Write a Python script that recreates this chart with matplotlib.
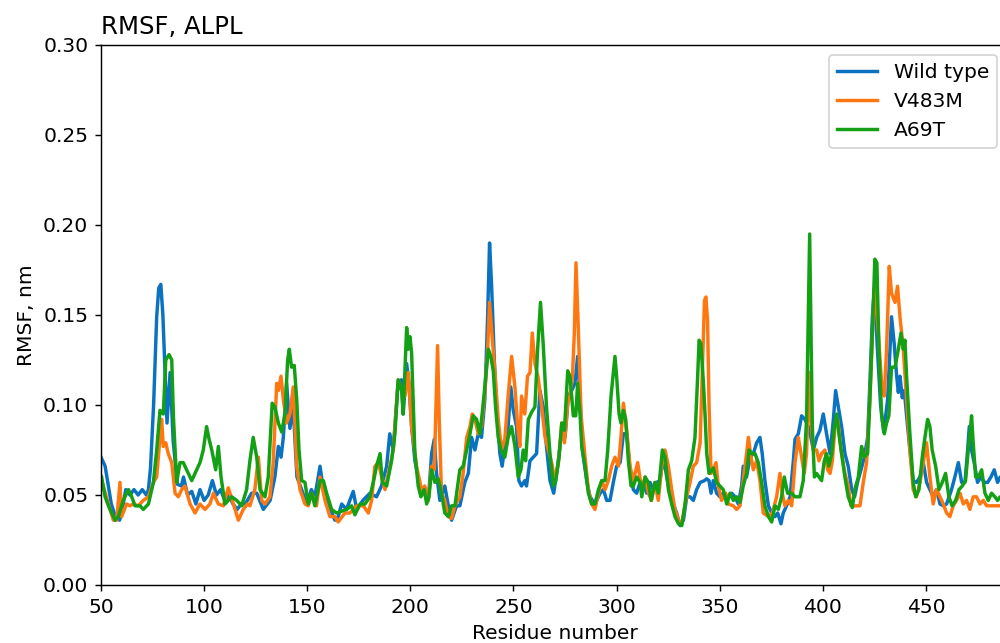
import matplotlib
matplotlib.use('Agg')
import matplotlib.pyplot as plt

# RMSF per residue
wt_res = [50, 52, 55, 57, 59, 60, 62, 64, 66, 68, 70, 72, 73, 74, 75.5, 77, 78, 79, 80, 81,
          82, 83.5, 85, 87, 89, 90, 92, 94, 96, 98, 100, 102, 104, 106, 108, 110, 112, 114, 116, 118,
          120, 123, 125.5, 128.7, 132, 134.3, 136, 137.3, 138.4, 140, 141.6, 143.2, 145, 147.3, 149.7, 152, 153.7, 156.2, 157.8, 160.2,
          163.4, 165, 166.7, 169, 172.3, 174, 177, 180.4, 183.6, 186, 188.5, 190, 191.7, 194, 195.7, 196.5, 198.2, 199.3, 200.6, 202.2,
          204.6, 207, 208.7, 210.3, 211.6, 212.7, 214.3, 216.7, 218.4, 220, 222.4, 224, 226.4, 228.1, 229.7, 231.3, 232.9, 234.5, 236.1, 237.4,
          238.4, 239.4, 240.7, 241.8, 243.4, 244.5, 245.8, 247.4, 248.7, 249.9, 251.5, 252.6, 253.9, 255.5, 256.3, 258, 259.6, 261.2, 262.8, 264.4,
          266, 267.7, 269.5, 271.4, 273.4, 275, 276.6, 278.2, 279.8, 281.1, 282.3, 283.4, 285.5, 287.1, 289.5, 292, 293.6, 295.2, 296.8, 298.4,
          300, 301.7, 303.3, 304.9, 306.5, 308.1, 309.7, 311.4, 313, 314.6, 316.2, 317.8, 319.4, 321, 322.7, 324.3, 325.9, 327.5, 329.1, 330.8,
          332.4, 334, 335.6, 337.2, 338.8, 340.5, 342.6, 343.7, 344.8, 345.8, 346.9, 348.5, 350.1, 351.7, 353.4, 355.8, 357.4, 359, 360.6, 361.4,
          363, 364.7, 366.3, 367.9, 369.5, 370.6, 371.9, 373.6, 375.2, 376.8, 378.1, 379.7, 380.8, 382.4, 384.1, 385.7, 386.5, 388.1, 389.7, 391.3,
          393, 394.2, 395.4, 397, 398.6, 400.2, 401.8, 403.5, 405.1, 406.2, 407.5, 409.1, 410.7, 412.3, 414, 415.4, 416.8, 418.5, 420.1, 421.7,
          422.8, 424, 425, 426.5, 428, 429.5, 431.4, 433.3, 434.6, 435.8, 436.6, 437.4, 438.5, 439.5, 440.6, 442.2, 443.8, 445.4, 447.1, 448.7,
          450.3, 451.9, 453.5, 455.1, 456.8, 458.4, 460, 462.4, 464, 465.7, 467.3, 468.9, 470.2, 471, 472.1, 473.7, 475, 476.6, 478.3, 479.9,
          481.5, 483.1, 484.7, 486, 490]
wt_rmsf = [0.071, 0.066, 0.045, 0.038, 0.036, 0.040, 0.053, 0.050, 0.053, 0.050, 0.053, 0.050, 0.053, 0.065, 0.100, 0.149, 0.165, 0.167, 0.150, 0.120,
           0.090, 0.118, 0.080, 0.056, 0.055, 0.060, 0.050, 0.052, 0.045, 0.053, 0.047, 0.050, 0.058, 0.050, 0.053, 0.047, 0.050, 0.045, 0.042, 0.045,
           0.045, 0.051, 0.051, 0.042, 0.047, 0.060, 0.077, 0.071, 0.082, 0.112, 0.087, 0.099, 0.060, 0.053, 0.045, 0.053, 0.049, 0.066, 0.053, 0.045,
           0.036, 0.038, 0.045, 0.042, 0.052, 0.042, 0.047, 0.051, 0.049, 0.055, 0.066, 0.084, 0.075, 0.112, 0.114, 0.095, 0.123, 0.112, 0.088, 0.069,
           0.055, 0.051, 0.047, 0.073, 0.081, 0.062, 0.047, 0.055, 0.044, 0.036, 0.044, 0.044, 0.057, 0.062, 0.082, 0.075, 0.084, 0.082, 0.103, 0.147,
           0.190, 0.166, 0.125, 0.099, 0.073, 0.066, 0.077, 0.088, 0.110, 0.097, 0.088, 0.058, 0.055, 0.058, 0.055, 0.069, 0.071, 0.073, 0.108, 0.099,
           0.077, 0.058, 0.051, 0.066, 0.086, 0.082, 0.105, 0.108, 0.112, 0.127, 0.103, 0.075, 0.058, 0.049, 0.045, 0.051, 0.053, 0.047, 0.047, 0.057,
           0.066, 0.068, 0.084, 0.084, 0.064, 0.053, 0.051, 0.057, 0.057, 0.051, 0.057, 0.053, 0.057, 0.058, 0.071, 0.060, 0.051, 0.045, 0.040, 0.033,
           0.036, 0.049, 0.049, 0.047, 0.053, 0.057, 0.058, 0.059, 0.058, 0.051, 0.058, 0.051, 0.049, 0.051, 0.049, 0.051, 0.049, 0.045, 0.055, 0.066,
           0.060, 0.071, 0.073, 0.079, 0.082, 0.073, 0.058, 0.044, 0.040, 0.038, 0.040, 0.034, 0.040, 0.044, 0.049, 0.069, 0.081, 0.084, 0.094, 0.092,
           0.088, 0.082, 0.075, 0.082, 0.086, 0.095, 0.084, 0.073, 0.092, 0.108, 0.099, 0.088, 0.073, 0.066, 0.053, 0.049, 0.057, 0.064, 0.071, 0.082,
           0.112, 0.149, 0.165, 0.130, 0.100, 0.085, 0.103, 0.149, 0.134, 0.116, 0.107, 0.116, 0.104, 0.108, 0.094, 0.075, 0.058, 0.057, 0.060, 0.068,
           0.057, 0.053, 0.049, 0.053, 0.045, 0.044, 0.045, 0.053, 0.060, 0.068, 0.057, 0.057, 0.075, 0.088, 0.075, 0.066, 0.057, 0.060, 0.057, 0.057,
           0.060, 0.064, 0.057, 0.060, 0.058]

v483m_res = [50.3, 53.6, 56, 57.6, 59.2, 60, 62.4, 64, 65.7, 68.1, 70.5, 73, 75.4, 77, 78.6, 79.4, 80.2, 81.4, 82.6, 84.3,
             85.9, 87.5, 89.1, 90.7, 93.2, 95.6, 98, 100.4, 102.8, 104.5, 106.9, 109.3, 111.7, 114.2, 116.6, 119, 121, 122.2, 124.6, 126.3,
             127.9, 129.5, 131.9, 133.5, 135.2, 136, 137.3, 138.4, 140, 141.6, 143.2, 144.9, 146.5, 148.9, 150.5, 152.1, 154.5, 156.2, 158.6, 161,
             163.4, 165, 168.3, 170.7, 174, 177.2, 179.6, 181.2, 182.8, 184.5, 186.1, 187.7, 190.1, 191.7, 194.1, 195.8, 197.4, 199, 200.6, 203,
             205.4, 207, 208.7, 210.3, 211.6, 213.2, 214, 215.1, 216.7, 218.4, 220, 221.6, 224, 225.6, 227.3, 228.9, 230, 231.3, 232.9, 234.5,
             236.1, 237.4, 238.4, 239.4, 241, 242.6, 244.2, 245.8, 247.4, 249.1, 250.7, 252, 253.1, 253.9, 255.5, 256.8, 258, 259.1, 260.4, 262,
             263.6, 265.3, 266.9, 268.9, 269.8, 271.8, 273.4, 274.7, 276.3, 277.4, 278.6, 279.5, 280.3, 281.5, 282.8, 284.7, 286.3, 287.9, 289.5, 291.2,
             292.8, 294.4, 296, 297.6, 299.2, 300.9, 302.1, 303.3, 304.9, 306.5, 308.1, 310.2, 312.2, 313.8, 315.4, 317, 318.6, 320.2, 321.9, 323.5,
             325.1, 326.7, 328.3, 330, 331.6, 333.2, 335.6, 337.2, 338.8, 340.5, 341.6, 342.6, 343.3, 344.1, 344.8, 345.8, 346.9, 348.2, 349.3, 350.9,
             352.9, 354.2, 356.6, 358.2, 359.8, 361.4, 363, 363.9, 365.2, 366.3, 367.9, 369.5, 371.1, 373.6, 375.5, 377.6, 379.2, 380.3, 381.6, 383.3,
             384.9, 386.5, 388.1, 389.4, 391, 392.1, 393.3, 394.2, 395.4, 397, 398.1, 399.4, 401, 402.3, 403.5, 404.6, 405.9, 407.2, 408.8, 410.7,
             412.3, 413.6, 415.5, 418, 419.6, 421.2, 422.8, 424.4, 425.3, 426.9, 428.5, 429.8, 430.9, 432.2, 433.3, 435, 436.2, 437.4, 439, 440.6,
             442.2, 443.8, 445.4, 447.1, 448.7, 450.3, 451.9, 453.5, 455.1, 456.8, 458.4, 460, 461.6, 463.2, 464.8, 466.5, 468.1, 469.7, 471.3, 472.9,
             474.5, 476.2, 477.8, 479.4, 482.6, 486, 490]
v483m_rmsf = [0.058, 0.045, 0.036, 0.036, 0.057, 0.038, 0.045, 0.044, 0.045, 0.044, 0.047, 0.049, 0.057, 0.060, 0.082, 0.092, 0.077, 0.079, 0.073, 0.068,
              0.051, 0.049, 0.053, 0.055, 0.045, 0.040, 0.045, 0.042, 0.045, 0.051, 0.045, 0.044, 0.054, 0.045, 0.036, 0.042, 0.045, 0.044, 0.053, 0.071,
              0.047, 0.045, 0.049, 0.068, 0.112, 0.108, 0.116, 0.103, 0.090, 0.095, 0.110, 0.066, 0.053, 0.045, 0.044, 0.051, 0.044, 0.060, 0.047, 0.038,
              0.038, 0.035, 0.040, 0.040, 0.044, 0.044, 0.040, 0.047, 0.066, 0.068, 0.060, 0.053, 0.066, 0.075, 0.114, 0.108, 0.105, 0.118, 0.088, 0.066,
              0.053, 0.055, 0.047, 0.066, 0.064, 0.133, 0.092, 0.051, 0.047, 0.038, 0.037, 0.044, 0.049, 0.062, 0.082, 0.088, 0.095, 0.092, 0.084, 0.088,
              0.107, 0.129, 0.157, 0.142, 0.118, 0.092, 0.075, 0.081, 0.105, 0.127, 0.110, 0.088, 0.077, 0.105, 0.095, 0.116, 0.118, 0.140, 0.123, 0.115,
              0.100, 0.082, 0.075, 0.066, 0.057, 0.068, 0.090, 0.079, 0.101, 0.105, 0.116, 0.140, 0.179, 0.140, 0.094, 0.071, 0.053, 0.045, 0.042, 0.051,
              0.058, 0.053, 0.058, 0.066, 0.071, 0.066, 0.082, 0.101, 0.086, 0.066, 0.058, 0.068, 0.053, 0.060, 0.051, 0.047, 0.057, 0.047, 0.066, 0.075,
              0.066, 0.053, 0.042, 0.036, 0.034, 0.045, 0.057, 0.066, 0.068, 0.079, 0.121, 0.158, 0.160, 0.147, 0.101, 0.062, 0.064, 0.068, 0.055, 0.047,
              0.051, 0.045, 0.044, 0.042, 0.044, 0.058, 0.073, 0.082, 0.071, 0.064, 0.069, 0.058, 0.040, 0.038, 0.040, 0.049, 0.062, 0.051, 0.044, 0.047,
              0.044, 0.068, 0.082, 0.073, 0.062, 0.073, 0.118, 0.092, 0.075, 0.075, 0.069, 0.073, 0.075, 0.064, 0.062, 0.069, 0.088, 0.092, 0.075, 0.062,
              0.055, 0.044, 0.044, 0.044, 0.057, 0.068, 0.103, 0.149, 0.165, 0.140, 0.112, 0.105, 0.131, 0.177, 0.162, 0.157, 0.166, 0.149, 0.131, 0.103,
              0.075, 0.053, 0.049, 0.057, 0.068, 0.079, 0.060, 0.045, 0.053, 0.049, 0.045, 0.040, 0.038, 0.044, 0.047, 0.051, 0.045, 0.047, 0.042, 0.049,
              0.049, 0.045, 0.047, 0.044, 0.044, 0.044, 0.044]

a69t_res = [50.3, 52, 53.6, 55.2, 56.8, 58.4, 60.8, 63.3, 64.9, 66.5, 68.9, 70.5, 73, 75.4, 77, 78.6, 80.2, 81.4, 83, 84.3,
            85.1, 86.7, 88.3, 89.9, 91.5, 94, 96.4, 98, 99.6, 101.2, 102.4, 103.7, 105.6, 106.9, 108.2, 110.1, 111.7, 113.4, 115.8, 118.2,
            120.6, 122.2, 123.8, 125.5, 127.1, 129.5, 131.1, 133, 134.3, 136, 137.6, 139.2, 140.5, 141.3, 142.4, 143.7, 144.9, 146, 147.3, 148.9,
            150.5, 152.1, 153.7, 156.2, 157.8, 159.4, 161.8, 164.2, 166.7, 169.1, 171.5, 173.1, 175.6, 178, 180.4, 182, 183.6, 185.3, 186.4, 188.5,
            190.9, 192.5, 194.1, 195.8, 196.5, 198.2, 199, 199.8, 200.6, 202.2, 203.8, 205.1, 206.7, 207.9, 209, 210.3, 211.9, 213.5, 215.1, 216.7,
            218.4, 220, 221.6, 224, 225.6, 227.3, 228.9, 230.5, 232.1, 233.7, 234.8, 236.1, 237.8, 239, 240.2, 241.3, 242.6, 243.9, 245.8, 247.4,
            249.1, 250.7, 252.3, 253.6, 254.7, 255.9, 257.2, 258.8, 260.4, 261.7, 263.1, 264.4, 266, 267.7, 269.3, 270.5, 272.1, 273.4, 274.7, 276.3,
            277.4, 279, 280.2, 281.1, 282.3, 283.1, 284.7, 286.3, 287.9, 289.5, 291.2, 292.8, 294.4, 295.7, 297.3, 298.4, 299.2, 300, 301.2, 302.1,
            303.3, 304.4, 305.7, 307, 308.1, 309.7, 311.4, 312.2, 313.8, 315.4, 316.7, 318.6, 320.2, 322.2, 323.5, 325.1, 326.7, 328.3, 330, 331.6,
            333.2, 334.8, 336.4, 338, 339.3, 340, 340.9, 342.1, 342.9, 343.7, 344.8, 346.9, 348.5, 350.1, 351.7, 353.4, 355, 356.6, 358.2, 359.8,
            361.4, 363, 364.2, 365.5, 367.1, 368.7, 370.3, 371.9, 373.6, 375.2, 376.8, 378.4, 380, 381.3, 382.9, 384.9, 386.5, 388.9, 390.5, 392.1,
            392.9, 393.6, 394.2, 394.9, 395.9, 397, 398.1, 399.4, 400.7, 401.8, 402.9, 404.3, 405.6, 406.7, 407.8, 409.1, 410.7, 412.3, 414.3, 415.5,
            417.2, 418.8, 420.1, 421.7, 422.8, 424, 425.2, 426.2, 427.2, 428.5, 429.8, 430.9, 432, 433.3, 435, 436.6, 437.9, 439, 439.8, 440.6,
            442.2, 443.8, 445, 446.6, 448.2, 449.5, 450.8, 451.9, 453, 454.7, 456.3, 457.9, 459.5, 461.1, 462.7, 464.4, 466, 467.6, 469.2, 470.5,
            471.5, 472.1, 472.9, 474.1, 475.4, 477, 478.6, 480.2, 481.8, 483.4, 484.7, 486, 490]
a69t_rmsf = [0.060, 0.049, 0.044, 0.040, 0.036, 0.038, 0.047, 0.053, 0.049, 0.044, 0.044, 0.042, 0.045, 0.057, 0.075, 0.097, 0.095, 0.125, 0.128, 0.125,
             0.094, 0.057, 0.068, 0.068, 0.064, 0.058, 0.064, 0.068, 0.075, 0.088, 0.081, 0.075, 0.064, 0.077, 0.060, 0.045, 0.047, 0.049, 0.047, 0.044,
             0.053, 0.069, 0.082, 0.071, 0.053, 0.049, 0.060, 0.101, 0.099, 0.090, 0.085, 0.095, 0.125, 0.131, 0.121, 0.122, 0.103, 0.075, 0.058, 0.057,
             0.045, 0.051, 0.044, 0.058, 0.058, 0.051, 0.042, 0.040, 0.041, 0.042, 0.044, 0.039, 0.045, 0.045, 0.049, 0.057, 0.066, 0.073, 0.057, 0.055,
             0.069, 0.084, 0.114, 0.108, 0.095, 0.143, 0.131, 0.138, 0.129, 0.073, 0.055, 0.049, 0.053, 0.045, 0.049, 0.064, 0.057, 0.059, 0.051, 0.040,
             0.038, 0.044, 0.044, 0.064, 0.066, 0.075, 0.084, 0.094, 0.092, 0.084, 0.095, 0.110, 0.131, 0.127, 0.119, 0.099, 0.082, 0.075, 0.071, 0.082,
             0.088, 0.077, 0.060, 0.064, 0.075, 0.069, 0.092, 0.096, 0.099, 0.131, 0.157, 0.134, 0.099, 0.073, 0.055, 0.058, 0.071, 0.090, 0.086, 0.119,
             0.116, 0.094, 0.094, 0.112, 0.094, 0.077, 0.066, 0.051, 0.045, 0.045, 0.053, 0.058, 0.058, 0.075, 0.105, 0.118, 0.127, 0.116, 0.095, 0.090,
             0.097, 0.092, 0.069, 0.055, 0.055, 0.060, 0.057, 0.049, 0.060, 0.057, 0.047, 0.057, 0.051, 0.075, 0.071, 0.053, 0.045, 0.038, 0.034, 0.033,
             0.045, 0.064, 0.069, 0.082, 0.116, 0.136, 0.134, 0.112, 0.094, 0.073, 0.062, 0.065, 0.057, 0.055, 0.053, 0.045, 0.051, 0.047, 0.049, 0.046,
             0.055, 0.062, 0.075, 0.073, 0.073, 0.068, 0.057, 0.044, 0.038, 0.035, 0.044, 0.042, 0.049, 0.060, 0.051, 0.051, 0.049, 0.049, 0.058, 0.092,
             0.147, 0.195, 0.147, 0.088, 0.060, 0.062, 0.060, 0.058, 0.069, 0.073, 0.066, 0.073, 0.088, 0.095, 0.084, 0.073, 0.060, 0.049, 0.043, 0.053,
             0.060, 0.077, 0.071, 0.073, 0.103, 0.140, 0.181, 0.179, 0.131, 0.094, 0.084, 0.090, 0.094, 0.121, 0.121, 0.131, 0.140, 0.131, 0.136, 0.116,
             0.084, 0.057, 0.049, 0.053, 0.071, 0.082, 0.092, 0.088, 0.075, 0.066, 0.053, 0.057, 0.062, 0.049, 0.044, 0.047, 0.053, 0.055, 0.058, 0.075,
             0.086, 0.094, 0.079, 0.060, 0.060, 0.064, 0.051, 0.047, 0.051, 0.049, 0.047, 0.049, 0.048]

DPI = 130
plt.rcParams['font.size'] = 11.2
fig = plt.figure(figsize=(1000 / DPI, 643 / DPI), dpi=DPI)
# axes run past the right edge of the picture, like the cropped original
ax = fig.add_axes([0.101, 1 - 585 / 643, 0.9085, 540 / 643])

ax.plot(wt_res, wt_rmsf, color='#0a72c0', lw=1.9, label='Wild type')
ax.plot(v483m_res, v483m_rmsf, color='#ff7710', lw=1.9, label='V483M')
ax.plot(a69t_res, a69t_rmsf, color='#14a014', lw=1.9, label='A69T')

ax.set_xlim(50, 490.5)
ax.set_ylim(0, 0.30)
ax.set_xticks(range(50, 500, 50))
ax.set_yticks([0.0, 0.05, 0.10, 0.15, 0.20, 0.25, 0.30])
ax.set_title('RMSF, ALPL', loc='left', fontsize=13.5)
ax.set_xlabel('Residue number')
ax.set_ylabel('RMSF, nm')
ax.legend(loc='upper right', bbox_to_anchor=(0.997, 1 - 55 / 643),
          bbox_transform=fig.transFigure, borderaxespad=0)

fig.savefig('out.png', dpi=DPI)
